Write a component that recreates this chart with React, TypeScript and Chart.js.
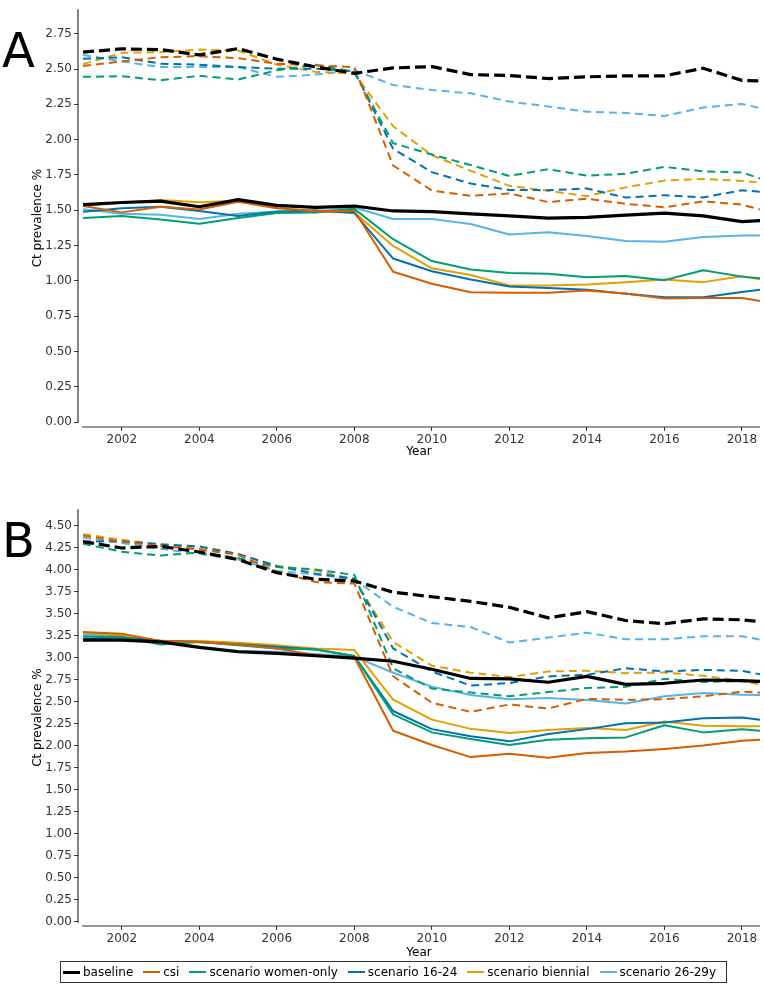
import React, { useEffect, useRef } from "react";
import { Chart, registerables } from "chart.js";
Chart.register(...registerables);

// ---------- data ----------
const years = [2001, 2002, 2003, 2004, 2005, 2006, 2007, 2008, 2009, 2010, 2011, 2012, 2013, 2014, 2015, 2016, 2017, 2018, 2019];
const xTickYears = [2002, 2004, 2006, 2008, 2010, 2012, 2014, 2016, 2018];
const yTicksA = [0, 0.25, 0.5, 0.75, 1, 1.25, 1.5, 1.75, 2, 2.25, 2.5, 2.75];
const yTicksB = [0, 0.25, 0.5, 0.75, 1, 1.25, 1.5, 1.75, 2, 2.25, 2.5, 2.75, 3, 3.25, 3.5, 3.75, 4, 4.25, 4.5];

const seriesNames = ["baseline", "csi", "scenario women-only", "scenario 16-24", "scenario biennial", "scenario 26-29y"];
const seriesColors = ["#000000", "#D55E00", "#009E73", "#0072B2", "#E69F00", "#56B4E9"];

// Panel A – solid lines
const baselineA = [1.54, 1.555, 1.565, 1.525, 1.575, 1.535, 1.52, 1.53, 1.495, 1.49, 1.475, 1.46, 1.445, 1.45, 1.465, 1.48, 1.46, 1.42, 1.435];
const csiA = [1.53, 1.485, 1.525, 1.505, 1.56, 1.515, 1.495, 1.495, 1.065, 0.98, 0.92, 0.915, 0.915, 0.932, 0.91, 0.875, 0.878, 0.878, 0.835];
const womenA = [1.445, 1.46, 1.435, 1.405, 1.445, 1.48, 1.485, 1.51, 1.295, 1.14, 1.08, 1.055, 1.05, 1.025, 1.035, 1.005, 1.075, 1.03, 1.005];
const young1624A = [1.49, 1.515, 1.525, 1.495, 1.46, 1.49, 1.5, 1.48, 1.158, 1.068, 1.01, 0.96, 0.95, 0.937, 0.909, 0.884, 0.884, 0.921, 0.955];
const biennialA = [1.53, 1.553, 1.572, 1.556, 1.568, 1.52, 1.49, 1.485, 1.247, 1.089, 1.042, 0.968, 0.968, 0.975, 0.991, 1.01, 0.991, 1.033, 0.985];
const age2629A = [1.507, 1.475, 1.468, 1.438, 1.475, 1.491, 1.491, 1.519, 1.438, 1.438, 1.403, 1.328, 1.345, 1.317, 1.282, 1.277, 1.31, 1.321, 1.321];

// Panel A – dashed lines
const baselineAd = [2.62, 2.643, 2.638, 2.6, 2.645, 2.57, 2.515, 2.47, 2.508, 2.517, 2.461, 2.454, 2.433, 2.445, 2.452, 2.452, 2.506, 2.42, 2.41];
const csiAd = [2.522, 2.554, 2.584, 2.591, 2.577, 2.538, 2.526, 2.514, 1.817, 1.64, 1.602, 1.619, 1.558, 1.582, 1.546, 1.521, 1.563, 1.54, 1.465];
const womenAd = [2.445, 2.449, 2.421, 2.452, 2.426, 2.491, 2.531, 2.48, 1.975, 1.895, 1.82, 1.743, 1.791, 1.745, 1.759, 1.807, 1.776, 1.768, 1.675];
const young1624Ad = [2.573, 2.584, 2.538, 2.531, 2.514, 2.503, 2.503, 2.484, 1.935, 1.77, 1.689, 1.644, 1.642, 1.654, 1.59, 1.607, 1.591, 1.642, 1.617];
const biennialAd = [2.535, 2.615, 2.62, 2.638, 2.631, 2.531, 2.48, 2.468, 2.095, 1.89, 1.78, 1.673, 1.638, 1.6, 1.662, 1.71, 1.721, 1.708, 1.685];
const age2629Ad = [2.6, 2.554, 2.514, 2.514, 2.514, 2.445, 2.461, 2.491, 2.387, 2.352, 2.328, 2.27, 2.235, 2.198, 2.189, 2.168, 2.228, 2.253, 2.19];

// Panel B – solid lines
const baselineB = [3.2, 3.2, 3.18, 3.117, 3.068, 3.05, 3.023, 2.995, 2.96, 2.87, 2.765, 2.76, 2.722, 2.788, 2.698, 2.71, 2.747, 2.741, 2.72];
const csiB = [3.293, 3.274, 3.192, 3.18, 3.15, 3.106, 3.03, 3.005, 2.17, 2.009, 1.871, 1.908, 1.863, 1.919, 1.935, 1.964, 2.002, 2.058, 2.08];
const womenB = [3.244, 3.236, 3.15, 3.18, 3.143, 3.106, 3.094, 3.02, 2.357, 2.152, 2.076, 2.009, 2.069, 2.084, 2.095, 2.233, 2.152, 2.189, 2.15];
const young1624B = [3.218, 3.229, 3.192, 3.18, 3.154, 3.125, 3.094, 3.019, 2.395, 2.189, 2.107, 2.05, 2.133, 2.189, 2.256, 2.264, 2.312, 2.32, 2.265];
const biennialB = [3.29, 3.255, 3.19, 3.19, 3.17, 3.143, 3.106, 3.087, 2.525, 2.297, 2.192, 2.144, 2.18, 2.202, 2.18, 2.275, 2.227, 2.223, 2.22];
const age2629B = [3.266, 3.255, 3.18, 3.125, 3.08, 3.068, 3.042, 3.012, 2.83, 2.672, 2.576, 2.529, 2.544, 2.521, 2.481, 2.563, 2.6, 2.581, 2.57];

// Panel B – dashed lines
const baselineBd = [4.32, 4.247, 4.265, 4.202, 4.116, 3.966, 3.891, 3.872, 3.745, 3.693, 3.641, 3.573, 3.453, 3.524, 3.423, 3.386, 3.442, 3.431, 3.39];
const csiBd = [4.39, 4.32, 4.27, 4.23, 4.17, 3.98, 3.86, 3.843, 2.79, 2.488, 2.386, 2.469, 2.423, 2.533, 2.522, 2.529, 2.563, 2.614, 2.595];
const womenBd = [4.295, 4.205, 4.162, 4.195, 4.133, 4.03, 4.003, 3.94, 2.88, 2.65, 2.605, 2.563, 2.61, 2.657, 2.67, 2.76, 2.725, 2.735, 2.71];
const young1624Bd = [4.32, 4.325, 4.29, 4.265, 4.18, 4.04, 3.955, 3.9, 3.106, 2.844, 2.683, 2.713, 2.788, 2.806, 2.881, 2.844, 2.862, 2.851, 2.77];
const biennialBd = [4.404, 4.34, 4.284, 4.239, 4.18, 4.045, 3.99, 3.89, 3.18, 2.91, 2.83, 2.78, 2.844, 2.853, 2.825, 2.833, 2.795, 2.737, 2.645];
const age2629Bd = [4.366, 4.303, 4.239, 4.18, 4.116, 3.985, 3.947, 3.89, 3.58, 3.394, 3.349, 3.173, 3.229, 3.285, 3.21, 3.21, 3.244, 3.244, 3.165];

const solidA = [baselineA, csiA, womenA, young1624A, biennialA, age2629A];
const dashedA = [baselineAd, csiAd, womenAd, young1624Ad, biennialAd, age2629Ad];
const solidB = [baselineB, csiB, womenB, young1624B, biennialB, age2629B];
const dashedB = [baselineBd, csiBd, womenBd, young1624Bd, biennialBd, age2629Bd];

const FONT = "'DejaVu Sans', 'Noto Sans', sans-serif";

const axisLinePlugin = {
  id: "axisLinePlugin",
  afterDraw(chart: any) {
    const { ctx, chartArea, scales } = chart;
    const x0 = scales.x.getPixelForValue(years[0]);
    const y0 = scales.y.getPixelForValue(0);
    ctx.save();
    ctx.strokeStyle = "#333333";
    ctx.lineWidth = 1.2;
    ctx.beginPath();
    ctx.moveTo(chartArea.left, chartArea.top);
    ctx.lineTo(chartArea.left, y0 + 1);
    ctx.moveTo(x0 - 1, chartArea.bottom);
    ctx.lineTo(chartArea.right, chartArea.bottom);
    ctx.stroke();
    ctx.restore();
  },
};

type PanelProps = {
  solid: number[][];
  dashed: number[][];
  yMin: number;
  yMax: number;
  yTicks: number[];
  top: number;
  height: number;
  padTop: number;
  xAxisHeight: number;
  xTitlePad: number;
};

function Panel(p: PanelProps) {
  const ref = useRef<HTMLCanvasElement | null>(null);
  useEffect(() => {
    if (!ref.current) return;
    const datasets: any[] = [];
    seriesNames.forEach((name, i) => {
      const isBase = i === 0;
      datasets.push({
        label: name + " (dashed)",
        data: years.map((x, j) => ({ x, y: p.dashed[i][j] })),
        borderColor: seriesColors[i],
        backgroundColor: seriesColors[i],
        borderWidth: isBase ? 3.2 : 2,
        borderDash: isBase ? [11, 5] : [8, 5],
        borderJoinStyle: "round",
        pointRadius: 0,
        tension: 0,
        fill: false,
        clip: 0,
        order: isBase ? 0 : 1,
      });
      datasets.push({
        label: name,
        data: years.map((x, j) => ({ x, y: p.solid[i][j] })),
        borderColor: seriesColors[i],
        backgroundColor: seriesColors[i],
        borderWidth: isBase ? 3.2 : 2,
        borderJoinStyle: "round",
        pointRadius: 0,
        tension: 0,
        fill: false,
        clip: 0,
        order: isBase ? 0 : 1,
      });
    });
    const chart = new Chart(ref.current, {
      type: "line",
      data: { datasets },
      plugins: [axisLinePlugin],
      options: {
        animation: false,
        responsive: false,
        devicePixelRatio: 1,
        events: [],
        layout: { padding: { top: p.padTop, right: 4, left: 0, bottom: 0 } },
        plugins: { legend: { display: false }, tooltip: { enabled: false } },
        scales: {
          x: {
            type: "linear",
            min: 2000.87,
            max: 2018.465,
            afterBuildTicks: (scale: any) => {
              scale.ticks = xTickYears.map((v) => ({ value: v }));
            },
            afterFit: (scale: any) => {
              scale.height = p.xAxisHeight;
            },
            ticks: {
              autoSkip: false,
              maxRotation: 0,
              padding: 2,
              color: "#333333",
              font: { family: FONT, size: 12 },
              callback: (v: any) => String(v),
            },
            grid: { display: true, drawOnChartArea: false, drawTicks: true, tickLength: 4, color: "#333333", lineWidth: 1 },
            border: { display: false },
            title: { display: true, text: "Year", color: "#000", font: { family: FONT, size: 12 }, padding: { top: 0, bottom: p.xTitlePad } },
          },
          y: {
            type: "linear",
            min: p.yMin,
            max: p.yMax,
            afterBuildTicks: (scale: any) => {
              scale.ticks = p.yTicks.map((v) => ({ value: v }));
            },
            afterFit: (scale: any) => {
              scale.width = 78;
            },
            ticks: {
              autoSkip: false,
              padding: 2,
              color: "#333333",
              font: { family: FONT, size: 12 },
              callback: (v: any) => Number(v).toFixed(2),
            },
            grid: { display: true, drawOnChartArea: false, drawTicks: true, tickLength: 4, color: "#333333", lineWidth: 1 },
            border: { display: false },
            title: { display: true, text: "Ct prevalence %", color: "#000", font: { family: FONT, size: 12 }, padding: { top: 31, bottom: 0 } },
          },
        },
      } as any,
    });
    return () => chart.destroy();
  }, []);
  return (
    <canvas
      ref={ref}
      width={764}
      height={p.height}
      style={{ position: "absolute", left: 0, top: p.top, width: 764, height: p.height }}
    />
  );
}

function Legend() {
  return (
    <div
      style={{
        position: "absolute",
        left: 60,
        top: 961,
        width: 667,
        height: 22,
        boxSizing: "border-box",
        border: "1px solid #333",
        display: "flex",
        alignItems: "center",
        paddingLeft: 2,
        fontFamily: FONT,
        fontSize: 12,
        color: "#000",
        whiteSpace: "nowrap",
      }}
    >
      {seriesNames.map((name, i) => (
        <div key={name} style={{ display: "flex", alignItems: "center", marginRight: i === seriesNames.length - 1 ? 0 : 10 }}>
          <span
            style={{
              display: "inline-block",
              width: 17,
              height: 0,
              borderTop: `${i === 0 ? 3 : 2}px solid ${seriesColors[i]}`,
              marginRight: 3,
            }}
          />
          <span>{name}</span>
        </div>
      ))}
    </div>
  );
}

export default function App() {
  const letterStyle: React.CSSProperties = {
    position: "absolute",
    left: 2,
    fontFamily: FONT,
    fontSize: 48,
    lineHeight: "48px",
    color: "#000",
  };
  return (
    <div style={{ position: "absolute", left: 0, top: 0, width: 764, height: 997, background: "#fff", overflow: "hidden" }}>
      <Panel solid={solidA} dashed={dashedA} yMin={-0.035} yMax={2.924} yTicks={yTicksA} top={0} height={462} padTop={3} xAxisHeight={35} xTitlePad={3} />
      <Panel solid={solidB} dashed={dashedB} yMin={-0.048} yMax={4.688} yTicks={yTicksB} top={500} height={462} padTop={4} xAxisHeight={36} xTitlePad={2} />
      <div style={{ ...letterStyle, top: 26 }}>A</div>
      <div style={{ ...letterStyle, top: 516 }}>B</div>
      <Legend />
    </div>
  );
}
